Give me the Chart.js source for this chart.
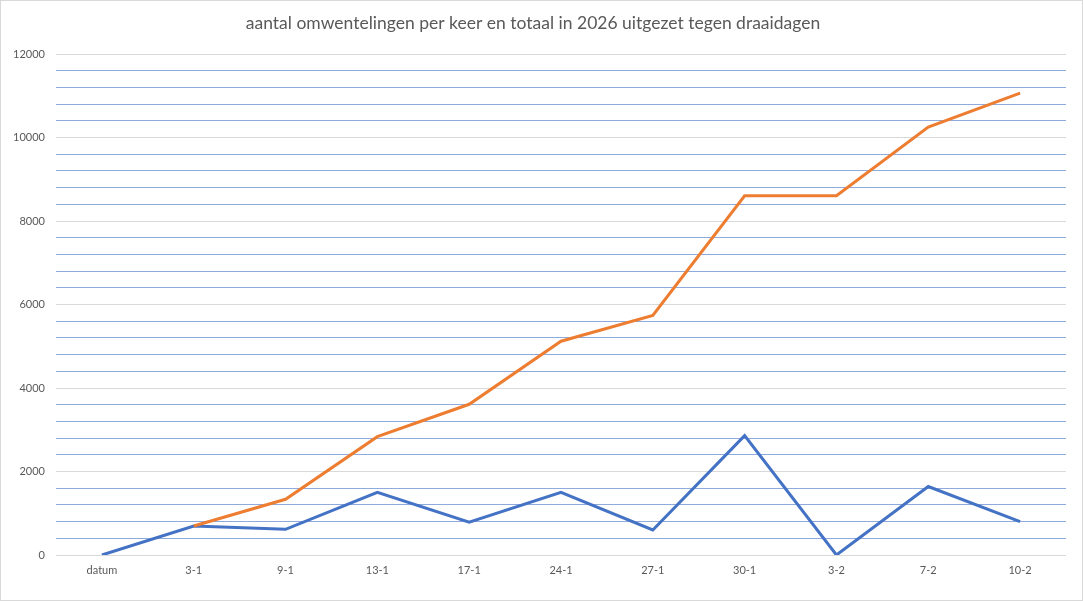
<!DOCTYPE html>
<html>
<head>
<meta charset="utf-8">
<script src="https://cdn.jsdelivr.net/npm/chart.js@4"></script>
<style>
html,body{margin:0;padding:0;background:#fff;}
#wrap{width:1083px;height:601px;position:relative;}
</style>
</head>
<body>
<div id="wrap"><canvas id="c" width="1083" height="601"></canvas></div>
<script>
const categories = ['datum','3-1','9-1','13-1','17-1','24-1','27-1','30-1','3-2','7-2','10-2'];
const perKeer = [0, 695, 615, 1500, 785, 1500, 600, 2860, 0, 1640, 800];
const totaal = [null, 695, 1335, 2835, 3610, 5120, 5740, 8605, 8605, 10250, 11065];
const titleText = 'aantal omwentelingen per keer en totaal in 2026 uitgezet tegen draaidagen';

const frame = {
  id: 'frame',
  afterDraw(chart) {
    const ctx = chart.ctx;
    ctx.save();
    ctx.strokeStyle = '#d9d9d9';
    ctx.lineWidth = 1;
    ctx.strokeRect(0.5, 0.5, chart.width - 1, chart.height - 1);
    ctx.restore();
  }
};

new Chart(document.getElementById('c'), {
  type: 'line',
  data: {
    labels: categories,
    datasets: [
      { label: 'per keer', data: perKeer, borderColor: '#4472C4', borderWidth: 3, pointRadius: 0, tension: 0, order: 2 },
      { label: 'totaal', data: totaal, borderColor: '#ED7D31', borderWidth: 3, pointRadius: 0, tension: 0, order: 1, spanGaps: false }
    ]
  },
  options: {
    responsive: false,
    animation: false,
    devicePixelRatio: 1,
    layout: { padding: { left: 0, right: 17, top: 0, bottom: 14 } },
    plugins: {
      legend: { display: false },
      tooltip: { enabled: false },
      title: {
        display: true, text: titleText, color: '#595959',
        font: { family: 'Lato', size: 17.5, weight: 'normal' },
        padding: { top: 13, bottom: 20 }
      }
    },
    scales: {
      x: {
        offset: true,
        grid: { display: false, drawTicks: false },
        border: { display: false },
        ticks: { color: '#595959', font: { family: 'Lato', size: 11 }, padding: 9, maxRotation: 0, autoSkip: false },
        afterFit(s) { s.height = 32; }
      },
      y: {
        min: 0, max: 12000,
        grid: {
          drawTicks: false,
          color: (c) => (c.tick && c.tick.value % 2000 === 0) ? '#d9d9d9' : '#8faadc',
          lineWidth: 1
        },
        border: { display: false },
        ticks: {
          stepSize: 400, autoSkip: false,
          color: '#595959', font: { family: 'Lato', size: 11 }, padding: 11,
          callback: (v) => (v % 2000 === 0) ? String(v) : ''
        },
        afterFit(s) { s.width = 56; }
      }
    }
  },
  plugins: [frame]
});
</script>
</body>
</html>
